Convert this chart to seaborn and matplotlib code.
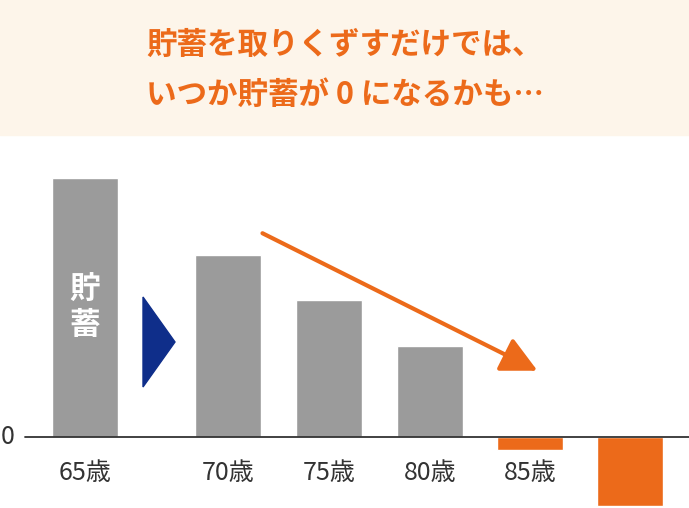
import matplotlib
matplotlib.use("Agg")
import matplotlib.pyplot as plt
import seaborn as sns
from matplotlib.patches import Rectangle, Polygon

sns.set_style("white")
plt.rcParams['font.family'] = ['Noto Sans CJK JP', 'DejaVu Sans']

ages = ["65歳", "70歳", "75歳", "80歳", "85歳", ""]
xpos = [85, 228, 329, 430, 530, 630]
savings = [259, 182, 137, 91, -13, -69]
colors = ["#9b9b9b"] * 4 + ["#ec6a1a"] * 2

fig = plt.figure(figsize=(6.89, 5.08), dpi=100)
ax = fig.add_axes([0, 0, 1, 1])
sns.barplot(x=xpos, y=savings, native_scale=True, width=0.66, palette=colors,
            hue=xpos, legend=False, ax=ax, saturation=1)
ax.set_xlim(0, 689)
ax.set_ylim(-71, 437)
ax.axis("off")

ax.add_patch(Rectangle((0, 437 - 135), 689, 135, color="#fdf5ea", zorder=0))
ax.text(345, 437 - 45, "貯蓄を取りくずすだけでは、", ha="center", va="center",
        fontsize=22, color="#ec6a1a", fontweight="bold")
ax.text(345, 437 - 95, "いつか貯蓄が 0 になるかも…", ha="center", va="center",
        fontsize=22, color="#ec6a1a", fontweight="bold")

ax.plot([25, 689], [0, 0], color="#333333", lw=1.3)
ax.text(8, 0, "0", ha="center", va="center", fontsize=18, color="#333333")
for x, a in zip(xpos, ages):
    ax.text(x, 437 - 473, a, ha="center", va="center", fontsize=18, color="#333333")

ax.text(85, 437 - 290, "貯", ha="center", va="center", fontsize=22, color="white", fontweight="bold")
ax.text(85, 437 - 325, "蓄", ha="center", va="center", fontsize=22, color="white", fontweight="bold")

ax.add_patch(Polygon([(143, 437 - 297), (175, 437 - 342), (143, 437 - 387)], color="#0f2e8a"))
ax.annotate("", xy=(540, 437 - 372), xytext=(260, 437 - 232),
            arrowprops=dict(arrowstyle="-|>,head_length=2.2,head_width=1.1", color="#ec6a1a", lw=3))

fig.savefig("out.png", dpi=100)
